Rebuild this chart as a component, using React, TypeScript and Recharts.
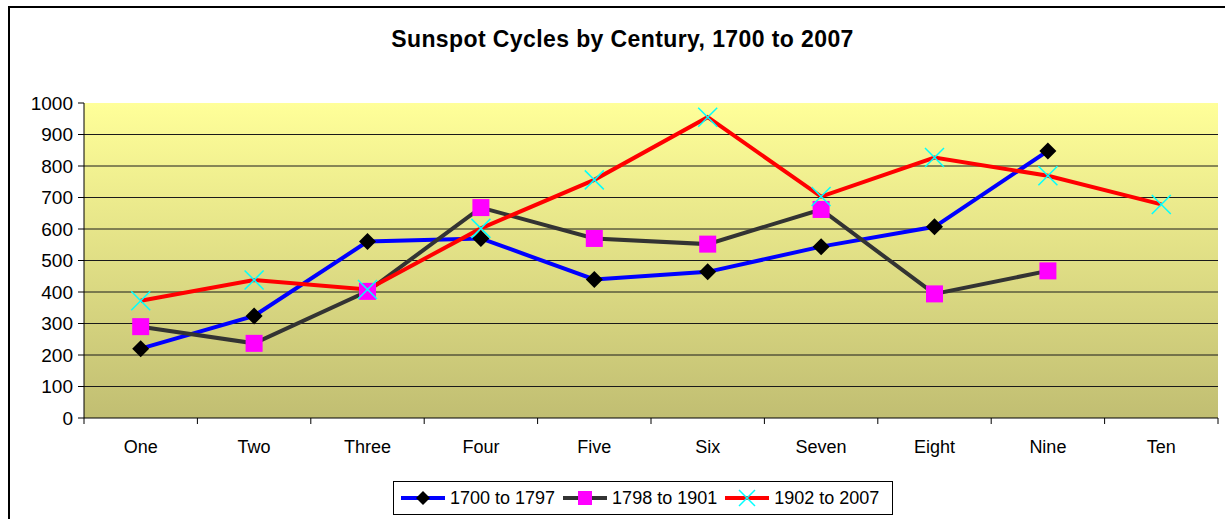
import React from 'react';
import { LineChart, Line, XAxis, YAxis, CartesianGrid, Legend } from 'recharts';

const categories = ['One', 'Two', 'Three', 'Four', 'Five', 'Six', 'Seven', 'Eight', 'Nine', 'Ten'];
const series1700 = [220, 324, 560, 570, 440, 464, 544, 607, 848, null];
const series1798 = [290, 237, 402, 668, 570, 552, 662, 394, 467, null];
const series1902 = [372, 438, 408, 602, 756, 955, 703, 827, 769, 678];
const yTicks = [0, 100, 200, 300, 400, 500, 600, 700, 800, 900, 1000];
const gridValues = [100, 200, 300, 400, 500, 600, 700, 800, 900];
const boundaryTicks = [0, 1, 2, 3, 4, 5, 6, 7, 8, 9, 10];
const centerTicks = categories.map((_, i) => i + 0.5);
const seriesNames = ['1700 to 1797', '1798 to 1901', '1902 to 2007'];

const data = categories.map((name, i) => ({
  x: i + 0.5,
  name,
  a: series1700[i],
  b: series1798[i],
  c: series1902[i],
}));

const FONT = '"Liberation Sans", Arial, sans-serif';

const Diamond = (props: any) => {
  const { cx, cy } = props;
  if (cx == null || cy == null || props.value == null) return null;
  const r = 8.5;
  return <path d={`M${cx},${cy - r}L${cx + r},${cy}L${cx},${cy + r}L${cx - r},${cy}Z`} fill="#000" />;
};
const Square = (props: any) => {
  const { cx, cy } = props;
  if (cx == null || cy == null || props.value == null) return null;
  const s = 17;
  return <rect x={cx - s / 2} y={cy - s / 2} width={s} height={s} fill="#FF00FF" />;
};
const Cross = (props: any) => {
  const { cx, cy } = props;
  if (cx == null || cy == null || props.value == null) return null;
  const r = 9.5;
  return (
    <path
      d={`M${cx - r},${cy - r}L${cx + r},${cy + r}M${cx - r},${cy + r}L${cx + r},${cy - r}`}
      stroke="#00FFFF"
      strokeWidth={1.5}
      fill="none"
    />
  );
};

const legendItems = [
  { name: seriesNames[0], color: '#0000FF', marker: 'diamond' },
  { name: seriesNames[1], color: '#333333', marker: 'square' },
  { name: seriesNames[2], color: '#FF0000', marker: 'cross' },
];

const LegendContent = () => (
  <div
    style={{
      boxSizing: 'border-box',
      width: 500,
      height: 34,
      border: '1px solid #000',
      background: '#fff',
      display: 'flex',
      alignItems: 'center',
      paddingLeft: 7,
      fontFamily: FONT,
      fontSize: 18,
      color: '#000',
      whiteSpace: 'nowrap',
    }}
  >
    {legendItems.map((it, i) => (
      <div key={it.name} style={{ display: 'flex', alignItems: 'center', marginRight: i < 2 ? 8 : 0 }}>
        <svg width={44} height={20} style={{ marginRight: 5 }}>
          <line x1={0} y1={10} x2={44} y2={10} stroke={it.color} strokeWidth={4} />
          {it.marker === 'diamond' && <path d="M22,3L29,10L22,17L15,10Z" fill="#000" />}
          {it.marker === 'square' && <rect x={15} y={3} width={14} height={14} fill="#FF00FF" />}
          {it.marker === 'cross' && (
            <path d="M14,2L30,18M14,18L30,2" stroke="#00FFFF" strokeWidth={1.5} />
          )}
        </svg>
        <span>{it.name}</span>
      </div>
    ))}
  </div>
);

export default function App() {
  return (
    <div style={{ position: 'absolute', left: 0, top: 0, width: 1225, height: 519, background: '#fff', overflow: 'hidden' }}>
      <div
        style={{
          position: 'absolute',
          left: 8,
          top: 6,
          width: 1240,
          height: 540,
          borderTop: '2px solid #000',
          borderLeft: '2px solid #000',
        }}
      />
      <div
        style={{
          position: 'absolute',
          left: 0,
          top: 25,
          width: 1245,
          textAlign: 'center',
          fontFamily: FONT,
          fontWeight: 'bold',
          fontSize: 23,
          letterSpacing: 0.4,
          lineHeight: '28px',
          color: '#000',
        }}
      >
        Sunspot Cycles by Century, 1700 to 2007
      </div>
      <div style={{ position: 'absolute', left: 0, top: 0 }}>
        <LineChart
          width={1225}
          height={519}
          data={data}
          margin={{ top: 103, right: 7, left: 0, bottom: 55 }}
        >
          <defs>
            <linearGradient id="plotBg" x1="0" y1="0" x2="0" y2="1">
              <stop offset="0%" stopColor="#FFFF99" />
              <stop offset="100%" stopColor="#C1BE72" />
            </linearGradient>
          </defs>
          <CartesianGrid
            vertical={false}
            horizontalValues={gridValues}
            stroke="#1a1a1a"
            strokeWidth={1}
            fill="url(#plotBg)"
            fillOpacity={1}
          />
          <XAxis
            xAxisId="grid"
            dataKey="x"
            type="number"
            domain={[0, 10]}
            ticks={boundaryTicks}
            tickFormatter={() => ''}
            tickSize={6}
            height={6}
            axisLine={{ stroke: '#000', strokeWidth: 1 }}
            tickLine={{ stroke: '#000' }}
            interval={0}
          />
          <XAxis
            xAxisId="labels"
            dataKey="x"
            type="number"
            domain={[0, 10]}
            ticks={centerTicks}
            tickFormatter={(v: number) => categories[Math.floor(v)]}
            axisLine={false}
            tickLine={false}
            tickSize={0}
            tickMargin={16}
            height={40}
            interval={0}
            tick={{ fill: '#000', fontFamily: FONT, fontSize: 18 }}
          />
          <YAxis
            type="number"
            domain={[0, 1000]}
            ticks={yTicks}
            width={84}
            tickSize={6}
            tickMargin={5}
            interval={0}
            axisLine={{ stroke: '#000' }}
            tickLine={{ stroke: '#000' }}
            tick={{ fill: '#000', fontFamily: FONT, fontSize: 19 }}
          />
          <Legend
            verticalAlign="middle"
            align="center"
            layout="horizontal"
            content={<LegendContent />}
            wrapperStyle={{ left: 393, top: 481, width: 500, height: 34 }}
          />
          <Line
            xAxisId="grid"
            type="linear"
            dataKey="a"
            name={seriesNames[0]}
            stroke="#0000FF"
            strokeWidth={4}
            dot={<Diamond />}
            activeDot={false}
            isAnimationActive={false}
          />
          <Line
            xAxisId="grid"
            type="linear"
            dataKey="b"
            name={seriesNames[1]}
            stroke="#333333"
            strokeWidth={4}
            dot={<Square />}
            activeDot={false}
            isAnimationActive={false}
          />
          <Line
            xAxisId="grid"
            type="linear"
            dataKey="c"
            name={seriesNames[2]}
            stroke="#FF0000"
            strokeWidth={4}
            dot={<Cross />}
            activeDot={false}
            isAnimationActive={false}
          />
        </LineChart>
      </div>
    </div>
  );
}
